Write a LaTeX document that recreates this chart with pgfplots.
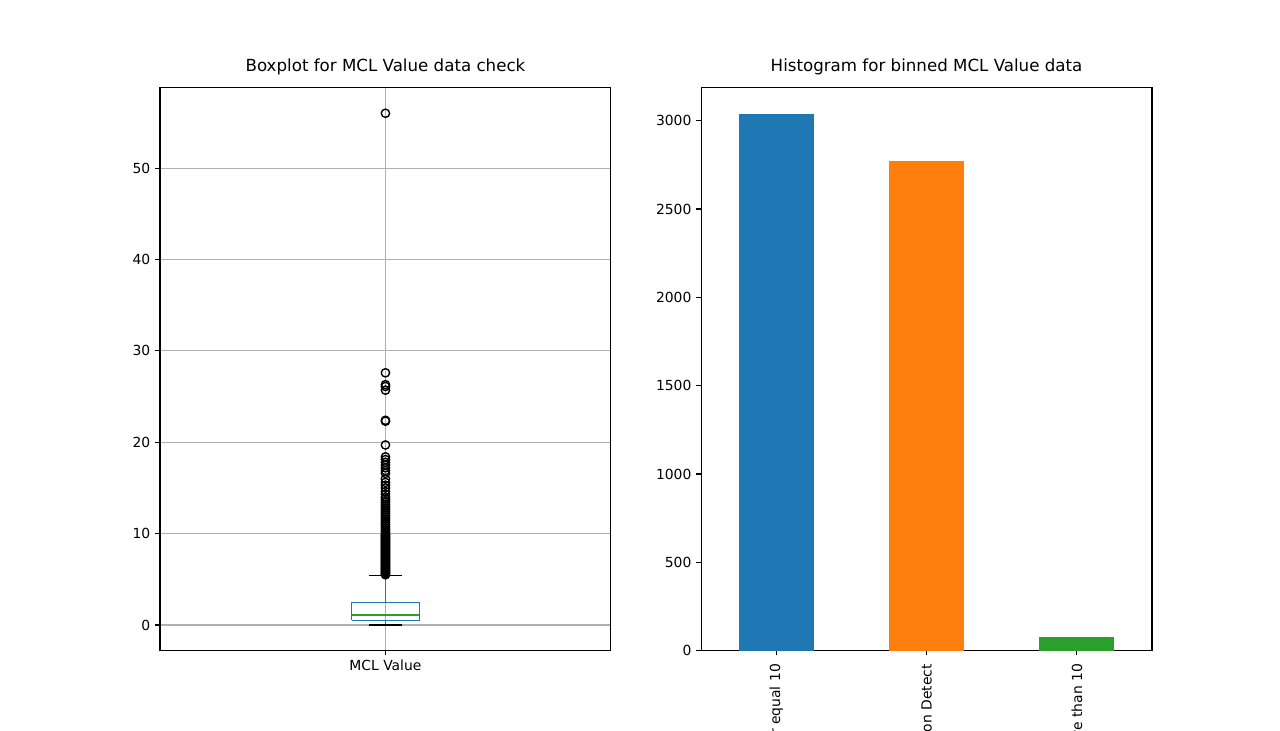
\documentclass[border=0pt]{standalone}
\usepackage{fontspec}
\setmainfont{DejaVu Sans}
\usepackage{pgfplots}
\pgfplotsset{compat=1.18}

\definecolor{mplblue}{HTML}{1F77B4}
\definecolor{mplorange}{HTML}{FF7F0E}
\definecolor{mplgreen}{HTML}{2CA02C}
\definecolor{gridgray}{HTML}{B0B0B0}

% 1 px of the 1280x731 reference = 0.72bp
\pgfplotsset{
  mpl/.style={
    scale only axis,
    width=324.65bp, height=405.3bp,
    anchor=south west,
    axis line style={line width=0.8bp, black},
    tick align=outside,
    major tick length=3.5bp,
    tick style={line width=0.8bp, black},
    xtick pos=left, ytick pos=left,
    tick label style={font=\fontsize{10bp}{12bp}\selectfont},
    /pgf/number format/assume math mode=true,
    /pgf/number format/1000 sep={},
    scaled y ticks=false,
    title style={font=\fontsize{12bp}{14bp}\selectfont, at={(0.5,1)}, anchor=base, yshift=6bp, inner sep=0pt},
  },
}

\begin{document}
\begin{tikzpicture}
\useasboundingbox (0,0) rectangle (921.6bp,526.32bp);
\clip (0,0) rectangle (921.6bp,526.32bp);

% left: boxplot
\begin{axis}[mpl,
    at={(115.2bp,57.89bp)},
    xmin=0.5, xmax=1.5, ymin=-2.8, ymax=58.8,
    xtick={1}, xticklabels={MCL Value},
    ytick={0,10,...,50},
    grid=major, grid style={line width=0.8bp, gridgray},
    title={Boxplot for MCL Value data check},
  ]
\addplot[mplblue, line width=1bp] coordinates {(0.925,0.51) (1.075,0.51) (1.075,2.48) (0.925,2.48) (0.925,0.51)};
\addplot[mplgreen, line width=1bp] coordinates {(0.925,1.09) (1.075,1.09)};
\addplot[mplblue, line width=1bp] coordinates {(1,2.48) (1,5.44)};
\addplot[mplblue, line width=1bp] coordinates {(1,0.51) (1,0)};
\addplot[black, line width=1bp] coordinates {(0.9625,5.44) (1.0375,5.44)};
\addplot[black, line width=1bp] coordinates {(0.9625,0) (1.0375,0)};
\addplot[only marks, mark=o, mark size=3bp, black, mark options={line width=1bp}] coordinates {
 (1,5.5) (1,5.6) (1,5.7) (1,5.8) (1,5.9) (1,6.0) (1,6.1) (1,6.2) (1,6.3) (1,6.4)
 (1,6.5) (1,6.6) (1,6.7) (1,6.8) (1,6.9) (1,7.0) (1,7.1) (1,7.2) (1,7.3) (1,7.4)
 (1,7.5) (1,7.6) (1,7.7) (1,7.8) (1,7.9) (1,8.0) (1,8.1) (1,8.2) (1,8.3) (1,8.4)
 (1,8.5) (1,8.6) (1,8.7) (1,8.8) (1,8.9) (1,9.0) (1,9.1) (1,9.2) (1,9.3) (1,9.4)
 (1,9.5) (1,9.6) (1,9.7) (1,9.8) (1,9.9) (1,10.0)
 (1,10.2) (1,10.4) (1,10.6) (1,10.8) (1,11.0) (1,11.2) (1,11.4) (1,11.6) (1,11.8) (1,12.0)
 (1,12.2) (1,12.4) (1,12.6) (1,12.8) (1,13.0) (1,13.2) (1,13.4) (1,13.6) (1,13.8) (1,14.0)
 (1,14.3) (1,14.6) (1,15.0) (1,15.3) (1,15.6) (1,16.0) (1,16.6) (1,16.9) (1,17.2) (1,17.5)
 (1,17.8) (1,18.1) (1,18.4) (1,19.7) (1,22.3) (1,22.4) (1,25.7) (1,26.1) (1,26.3) (1,27.6)
 (1,56.0)
};
\end{axis}

% right: binned bars
\begin{axis}[mpl,
    at={(504.79bp,57.89bp)},
    xmin=-0.5, xmax=2.5, ymin=0, ymax=3186.75,
    xtick={0,1,2},
    xticklabels={Less than or equal 10, Non Detect, More than 10},
    xticklabel style={rotate=90, anchor=east, inner xsep=6bp},
    ytick={0,500,...,3000},
    title={Histogram for binned MCL Value data},
  ]
\addplot[ybar, bar width=0.5, fill=mplblue, draw=none] coordinates {(0,3035)};
\addplot[ybar, bar width=0.5, fill=mplorange, draw=none] coordinates {(1,2773)};
\addplot[ybar, bar width=0.5, fill=mplgreen, draw=none] coordinates {(2,79)};
\end{axis}
\end{tikzpicture}
\end{document}
